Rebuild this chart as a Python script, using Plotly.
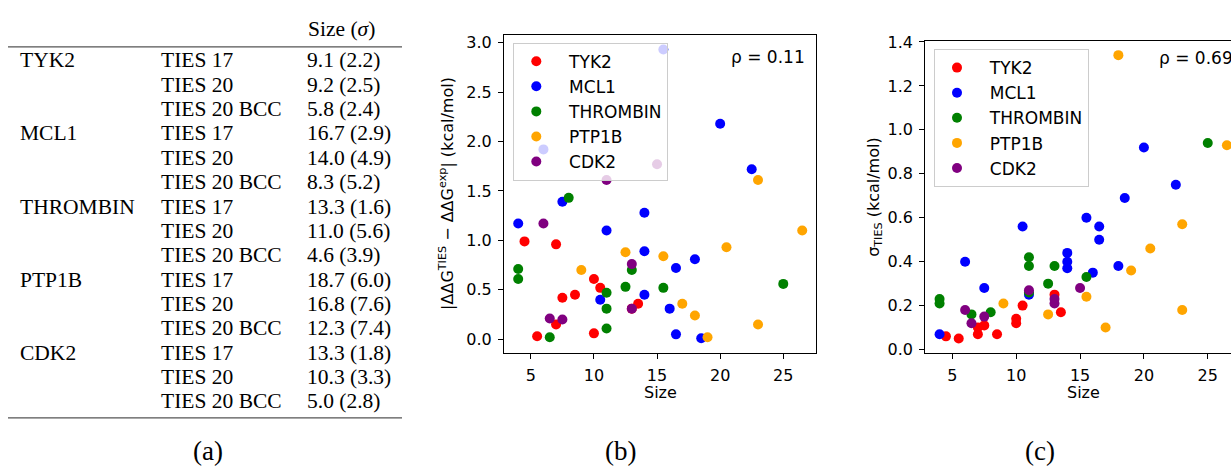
import plotly.graph_objects as go

# ---------------- data ----------------
series_names = ["TYK2", "MCL1", "THROMBIN", "PTP1B", "CDK2"]
series_colors = ["#ff0000", "#0000ff", "#008000", "#ffa500", "#800080"]

size_tyk2 = [4.5, 5.5, 7, 7, 7.5, 8.5, 10, 10, 10.5, 13, 13.5]
err_tyk2 = [0.99, 0.03, 0.96, 0.15, 0.42, 0.45, 0.61, 0.06, 0.52, 0.31, 0.36]
sd_tyk2 = [0.06, 0.05, 0.10, 0.07, 0.11, 0.07, 0.14, 0.12, 0.20, 0.25, 0.17]

size_mcl1 = [4, 6, 7.5, 10.5, 11, 14, 14, 14, 15.5, 16, 16.5, 16.5, 18, 18.5, 20, 22.5]
err_mcl1 = [1.17, 1.92, 1.39, 0.40, 1.10, 1.28, 0.89, 0.45, 2.93, 0.31, 0.72, 0.05, 0.81, 0.01, 2.18, 1.72]
sd_mcl1 = [0.07, 0.40, 0.28, 0.56, 0.25, 0.44, 0.40, 0.37, 0.60, 0.35, 0.56, 0.50, 0.38, 0.69, 0.92, 0.75]

size_thrombin = [4, 4, 6.5, 8, 11, 11, 11, 12.5, 13, 15.5, 25]
err_thrombin = [0.71, 0.61, 0.02, 1.43, 0.47, 0.31, 0.11, 0.53, 0.70, 0.52, 0.56]
sd_thrombin = [0.23, 0.21, 0.16, 0.17, 0.42, 0.38, 0.26, 0.30, 0.38, 0.33, 0.94]

size_ptp1b = [9, 12.5, 15.5, 17, 18, 19, 20.5, 23, 23, 26.5]
err_ptp1b = [0.70, 0.88, 0.84, 0.36, 0.24, 0.02, 0.93, 0.15, 1.61, 1.10]
sd_ptp1b = [0.21, 0.16, 0.24, 0.10, 1.34, 0.36, 0.46, 0.57, 0.18, 0.93]

size_cdk2 = [6, 6.5, 7.5, 11, 13, 13, 15]
err_cdk2 = [1.17, 0.21, 0.20, 1.61, 0.76, 0.31, 1.77]
sd_cdk2 = [0.18, 0.12, 0.15, 0.27, 0.23, 0.21, 0.28]

rho_b = "ρ = 0.11"
rho_c = "ρ = 0.69"

table_targets = ["TYK2", "MCL1", "THROMBIN", "PTP1B", "CDK2"]
table_methods = ["TIES 17", "TIES 20", "TIES 20 BCC"]
table_sizes = ["9.1 (2.2)", "9.2 (2.5)", "5.8 (2.4)",
               "16.7 (2.9)", "14.0 (4.9)", "8.3 (5.2)",
               "13.3 (1.6)", "11.0 (5.6)", "4.6 (3.9)",
               "18.7 (6.0)", "16.8 (7.6)", "12.3 (7.4)",
               "13.3 (1.8)", "10.3 (3.3)", "5.0 (2.8)"]

all_sizes = [size_tyk2, size_mcl1, size_thrombin, size_ptp1b, size_cdk2]
all_err = [err_tyk2, err_mcl1, err_thrombin, err_ptp1b, err_cdk2]
all_sd = [sd_tyk2, sd_mcl1, sd_thrombin, sd_ptp1b, sd_cdk2]

# ---------------- layout helpers ----------------
W, H = 1231, 471
def px(x):
    return x / W
def py(y):
    return 1 - y / H

SANS = "DejaVu Sans"
SERIF = "Liberation Serif"
TICK = 16
LEG = 17
PAD = "\u00a0\u00a0"

fig = go.Figure()
for name, color, xs, eb, sc in zip(series_names, series_colors, all_sizes, all_err, all_sd):
    fig.add_trace(go.Scatter(x=xs, y=eb, mode="markers", name=PAD + name,
                             marker=dict(color=color, size=10, line=dict(width=0)),
                             xaxis="x", yaxis="y", legend="legend", legendgroup=name + "_b"))
    fig.add_trace(go.Scatter(x=xs, y=sc, mode="markers", name=PAD + name,
                             marker=dict(color=color, size=10, line=dict(width=0)),
                             xaxis="x2", yaxis="y2", legend="legend2", legendgroup=name + "_c"))

axis_common = dict(showline=True, linecolor="black", linewidth=1, ticks="outside",
                   ticklen=5, tickwidth=1, tickcolor="black", showgrid=False, zeroline=False,
                   ticklabelstandoff=3,
                   tickfont=dict(family=SANS, size=TICK, color="black"))

b_left, b_right, b_top, b_bot = 504, 816.4, 27.9, 355.3
c_left, c_right, c_top, c_bot = 925.2, 1231, 34.0, 355.3

legend_common = dict(xanchor="left", yanchor="top", bgcolor="rgba(255,255,255,0.8)",
                     bordercolor="#cccccc", borderwidth=1, tracegroupgap=0, itemwidth=34,
                     font=dict(family=SANS, size=LEG, color="black"))

fig.update_layout(
    width=W, height=H, margin=dict(l=0, r=0, t=0, b=0),
    paper_bgcolor="white", plot_bgcolor="white",
    xaxis=dict(domain=[px(b_left), px(b_right)], range=[2.875, 27.625],
               tickvals=[5, 10, 15, 20, 25], mirror=True, anchor="y", **axis_common),
    yaxis=dict(domain=[py(b_bot), py(b_top)], range=[-0.136, 3.076],
               tickvals=[0, 0.5, 1.0, 1.5, 2.0, 2.5, 3.0], tickformat=".1f", mirror=True,
               anchor="x", **axis_common),
    xaxis2=dict(domain=[px(c_left), 1.0], range=[2.875, 26.82],
                tickvals=[5, 10, 15, 20, 25], mirror=True, anchor="y2", **axis_common),
    yaxis2=dict(domain=[py(c_bot), py(c_top)], range=[-0.0145, 1.4045],
                tickvals=[0, 0.2, 0.4, 0.6, 0.8, 1.0, 1.2, 1.4], tickformat=".1f",
                mirror=False, anchor="x2", **axis_common),
    legend=dict(x=px(513.3), y=py(35.7), **legend_common),
    legend2=dict(x=px(934), y=py(42.3), **legend_common),
    showlegend=True,
)

ann = []
def add_text(text, x, y, size, family, xanchor="left", yanchor="middle", angle=0):
    ann.append(dict(text=text, x=px(x), y=py(y), xref="paper", yref="paper",
                    xanchor=xanchor, yanchor=yanchor, showarrow=False, textangle=angle,
                    font=dict(family=family, size=size, color="black")))

# table (a)
TF = 21.5
row0, row_step = 54.0, 25.1
add_text("Size (<i>σ</i>)", 305.5, 22, TF, SERIF)
for i, tgt in enumerate(table_targets):
    for j, meth in enumerate(table_methods):
        r = i * len(table_methods) + j
        yrow = row0 + r * row_step
        if j == 0:
            add_text(tgt, 18, yrow, TF, SERIF)
        add_text(meth, 158.5, yrow, TF, SERIF)
        add_text(table_sizes[r], 305, yrow, TF, SERIF)

shapes = []
for yr in (40, 422.5):
    shapes.append(dict(type="line", xref="paper", yref="paper", x0=px(8), x1=px(402),
                       y0=py(yr), y1=py(yr), line=dict(color="#555555", width=1.3)))

# captions
add_text("(a)", 207.5, 457, 27, SERIF, xanchor="center")
add_text("(b)", 620, 457, 27, SERIF, xanchor="center")
add_text("(c)", 1040, 457, 27, SERIF, xanchor="center")

# axis titles
add_text("Size", (b_left + b_right) / 2, 396, TICK, SANS, xanchor="center")
add_text("Size", 1083, 396, TICK, SANS, xanchor="center")
add_text("|ΔΔG<sup>TIES</sup> − ΔΔG<sup>exp</sup>| (kcal/mol)", 447, (b_top + b_bot) / 2, TICK, SANS,
         xanchor="center", angle=-90)
add_text("σ<sub>TIES</sub> (kcal/mol)", 875, (c_top + c_bot) / 2, TICK, SANS,
         xanchor="center", angle=-90)

# correlation labels
add_text(rho_b, 807, 50, 17, SANS, xanchor="right")
add_text(rho_c, 1156.7, 51.7, 17, SANS, xanchor="left")

fig.update_layout(annotations=ann, shapes=shapes)
fig.write_html("out.html", config={"displayModeBar": False},
               post_script="document.body.style.margin='0px';document.body.style.overflow='hidden';")
